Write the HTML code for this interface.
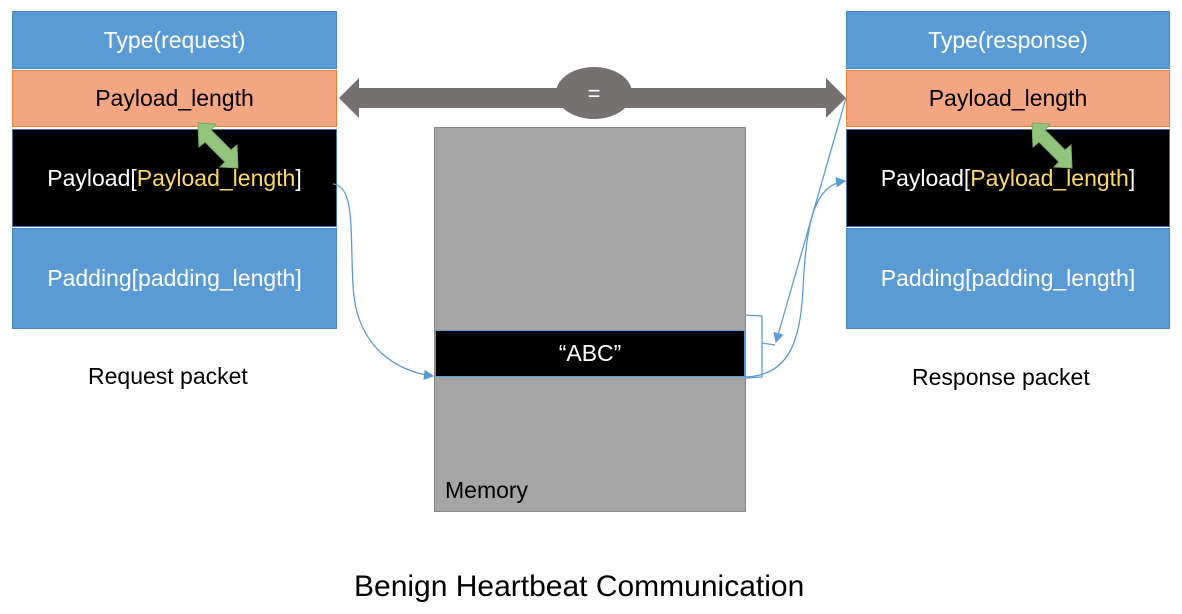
<!DOCTYPE html>
<html><head><style>
body{margin:0;width:1182px;height:614px;background:#fff;font-family:"Liberation Sans","DejaVu Sans",sans-serif;position:relative;overflow:hidden}
.b{position:absolute;display:flex;align-items:center;justify-content:center;font-size:23px;box-sizing:border-box}
.t{position:absolute;font-size:23px}
</style></head><body>
<div class="b" style="left:12px;top:11px;width:325px;height:58px;background:#5b9bd5;color:#fff;border:1px solid #4a88c0">Type(request)</div>
<div class="b" style="left:12px;top:70px;width:325px;height:57px;background:#f4a582;color:#000;border:1px solid #ed7d31">Payload_length</div>
<div class="b" style="left:12px;top:129px;width:325px;height:98px;background:#000;color:#fff;border:1px solid #41719c">Payload[<span style="color:#ffd966">Payload_length</span>]</div>
<div class="b" style="left:12px;top:228px;width:325px;height:101px;background:#5b9bd5;color:#fff;border:1px solid #4a88c0">Padding[padding_length]</div>

<div class="b" style="left:846px;top:11px;width:324px;height:58px;background:#5b9bd5;color:#fff;border:1px solid #4a88c0">Type(response)</div>
<div class="b" style="left:846px;top:70px;width:324px;height:57px;background:#f4a582;color:#000;border:1px solid #ed7d31">Payload_length</div>
<div class="b" style="left:846px;top:129px;width:324px;height:98px;background:#000;color:#fff;border:1px solid #41719c">Payload[<span style="color:#ffd966">Payload_length</span>]</div>
<div class="b" style="left:846px;top:228px;width:324px;height:101px;background:#5b9bd5;color:#fff;border:1px solid #4a88c0">Padding[padding_length]</div>

<div style="position:absolute;left:434px;top:127px;width:312px;height:385px;background:#a5a5a5;border:1px solid #888;box-sizing:border-box"></div>
<div class="b" style="left:435px;top:330px;width:310px;height:47px;background:#000;color:#fff;border:1px solid #5b9bd5">“ABC”</div>
<div class="t" style="left:445px;top:477px">Memory</div>

<div class="t" style="left:88px;top:363px">Request packet</div>
<div class="t" style="left:912px;top:364px">Response packet</div>
<div class="t" style="left:354px;top:570px;font-size:30px">Benign Heartbeat Communication</div>

<svg width="1182" height="614" style="position:absolute;left:0;top:0">
<defs><marker id="a" markerWidth="8" markerHeight="8" refX="7" refY="4" orient="auto"><path d="M0,0 L8,4 L0,8z" fill="#5b9bd5"/></marker></defs>
<polygon points="339,98 359,78 359,88 826,88 826,78 846,98 826,118 826,108 359,108 359,118" fill="#767171"/>
<ellipse cx="594" cy="93" rx="38" ry="26" fill="#767171"/>
<text x="594" y="101" font-size="22" fill="#fff" text-anchor="middle" font-family="Liberation Sans">=</text>
<g fill="#93c47d" stroke="#7aa866" stroke-width="1">
<polygon points="198,123 216,124 211,130 231,150 237,145 238,168 220,167 225,162 205,142 199,147"/>
<polygon points="1032,123 1050,124 1045,130 1065,150 1071,145 1072,168 1054,167 1059,162 1039,142 1033,147"/>
</g>
<g fill="none" stroke="#5b9bd5" stroke-width="1.3">
<path d="M333,184 C355,186 350,230 353,285 C356,350 400,372 433,376" marker-end="url(#a)"/>
<path d="M746,377 C790,375 800,340 803,290 C806,220 815,185 845,181" marker-end="url(#a)"/>
<path d="M846,98 L776,342" marker-end="url(#a)"/>
<path d="M746,315 L762,316 L762,343 L775,345 M762,343 L762,377 L746,378"/>
</g>
<text x="255" y="598" font-size="4" fill="#999">.</text>
</svg>
</body></html>
